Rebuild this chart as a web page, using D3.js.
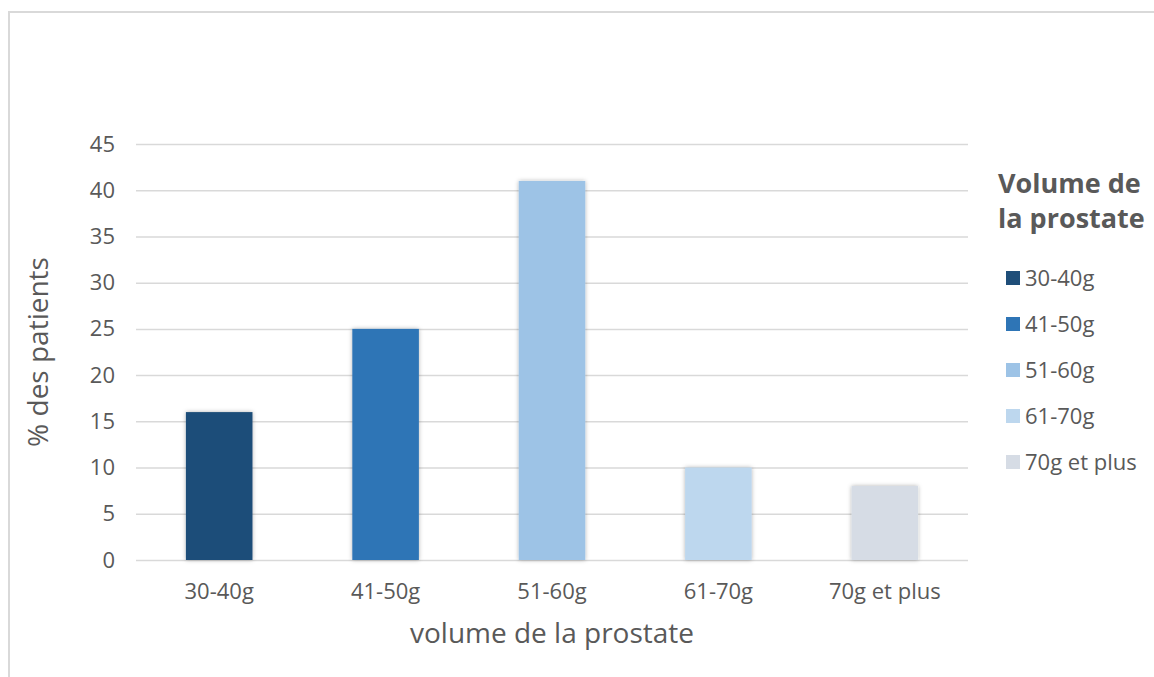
<!DOCTYPE html>
<html>
<head>
<meta charset="utf-8">
<script src="https://cdn.jsdelivr.net/npm/d3@7"></script>
<style>
  html, body { margin: 0; padding: 0; background: #ffffff; }
  svg { display: block; font-family: "Open Sans", sans-serif; }
</style>
</head>
<body>
<svg id="chart" width="1154" height="677"></svg>
<script>
// Répartition des patients selon le volume de la prostate
const categories = ["30-40g", "41-50g", "51-60g", "61-70g", "70g et plus"];
const values = [16, 25, 41, 10, 8];
const colors = ["#1f4e79", "#2e75b6", "#9dc3e6", "#bdd7ee", "#d6dce5"];
const yTicks = [0, 5, 10, 15, 20, 25, 30, 35, 40, 45];
const legendTitle = ["Volume de", "la prostate"];
const xTitle = "volume de la prostate";
const yTitle = "% des patients";

const svg = d3.select("#chart");
const margin = { left: 136, right: 186, top: 144, bottom: 117 };
const W = 1154, H = 677;
const FONT = "'Open Sans', sans-serif";
const TEXT = "#595959";

// outer frame
svg.append("path")
  .attr("d", `M9,${H} V12 H${W}`)
  .attr("fill", "none")
  .attr("stroke", "#d9d9d9")
  .attr("stroke-width", 2);

// bar shadow
const defs = svg.append("defs");
const f = defs.append("filter").attr("id", "shadow")
  .attr("x", "-20%").attr("y", "-10%").attr("width", "140%").attr("height", "120%");
f.append("feDropShadow").attr("dx", 0).attr("dy", 0).attr("stdDeviation", 2)
  .attr("flood-color", "#000").attr("flood-opacity", 0.3);

const x = d3.scaleBand()
  .domain(categories)
  .range([margin.left, W - margin.right])
  .paddingInner(0.6)
  .paddingOuter(0.3);

const y = d3.scaleLinear()
  .domain([0, 45])
  .range([H - margin.bottom, margin.top]);

// horizontal gridlines
const yAxis = d3.axisLeft(y)
  .tickValues(yTicks)
  .tickSize(-(W - margin.right - margin.left))
  .tickPadding(21);
const gy = svg.append("g")
  .attr("transform", `translate(${margin.left},0)`)
  .call(yAxis);
gy.select(".domain").remove();
gy.selectAll(".tick line").attr("stroke", "#d9d9d9").attr("stroke-width", 1.5);
gy.selectAll(".tick text")
  .attr("fill", TEXT)
  .style("font-size", "22px")
  .style("font-family", FONT);

// bars
svg.append("g").selectAll("rect")
  .data(values)
  .join("rect")
  .attr("x", (d, i) => x(categories[i]))
  .attr("y", d => y(d))
  .attr("width", x.bandwidth())
  .attr("height", d => y(0) - y(d))
  .attr("fill", (d, i) => colors[i])
  .attr("filter", "url(#shadow)");

// x axis labels
const xAxis = d3.axisBottom(x).tickSize(0).tickPadding(23);
const gx = svg.append("g")
  .attr("transform", `translate(0,${y(0)})`)
  .call(xAxis);
gx.select(".domain").remove();
gx.selectAll(".tick text")
  .attr("fill", TEXT)
  .style("font-size", "22px")
  .style("font-family", FONT);

// axis titles
svg.append("text")
  .attr("x", (margin.left + W - margin.right) / 2)
  .attr("y", 643)
  .attr("text-anchor", "middle")
  .attr("fill", TEXT)
  .style("font-size", "28px")
  .text(xTitle);

svg.append("text")
  .attr("transform", `translate(48,${(margin.top + H - margin.bottom) / 2}) rotate(-90)`)
  .attr("text-anchor", "middle")
  .attr("fill", TEXT)
  .style("font-size", "28px")
  .text(yTitle);

// legend
const lg = svg.append("g");
lg.selectAll("text.title")
  .data(legendTitle)
  .join("text")
  .attr("class", "title")
  .attr("x", 998)
  .attr("y", (d, i) => 193 + i * 35)
  .attr("fill", TEXT)
  .style("font-size", "27px")
  .style("font-weight", "bold")
  .text(d => d);

const items = lg.selectAll("g.item")
  .data(categories)
  .join("g")
  .attr("class", "item")
  .attr("transform", (d, i) => `translate(1006,${278 + i * 46})`);
items.append("rect")
  .attr("x", 0).attr("y", -7)
  .attr("width", 14).attr("height", 14)
  .attr("fill", (d, i) => colors[i]);
items.append("text")
  .attr("x", 19)
  .attr("y", 8)
  .attr("fill", TEXT)
  .style("font-size", "22px")
  .text(d => d);
</script>
</body>
</html>
